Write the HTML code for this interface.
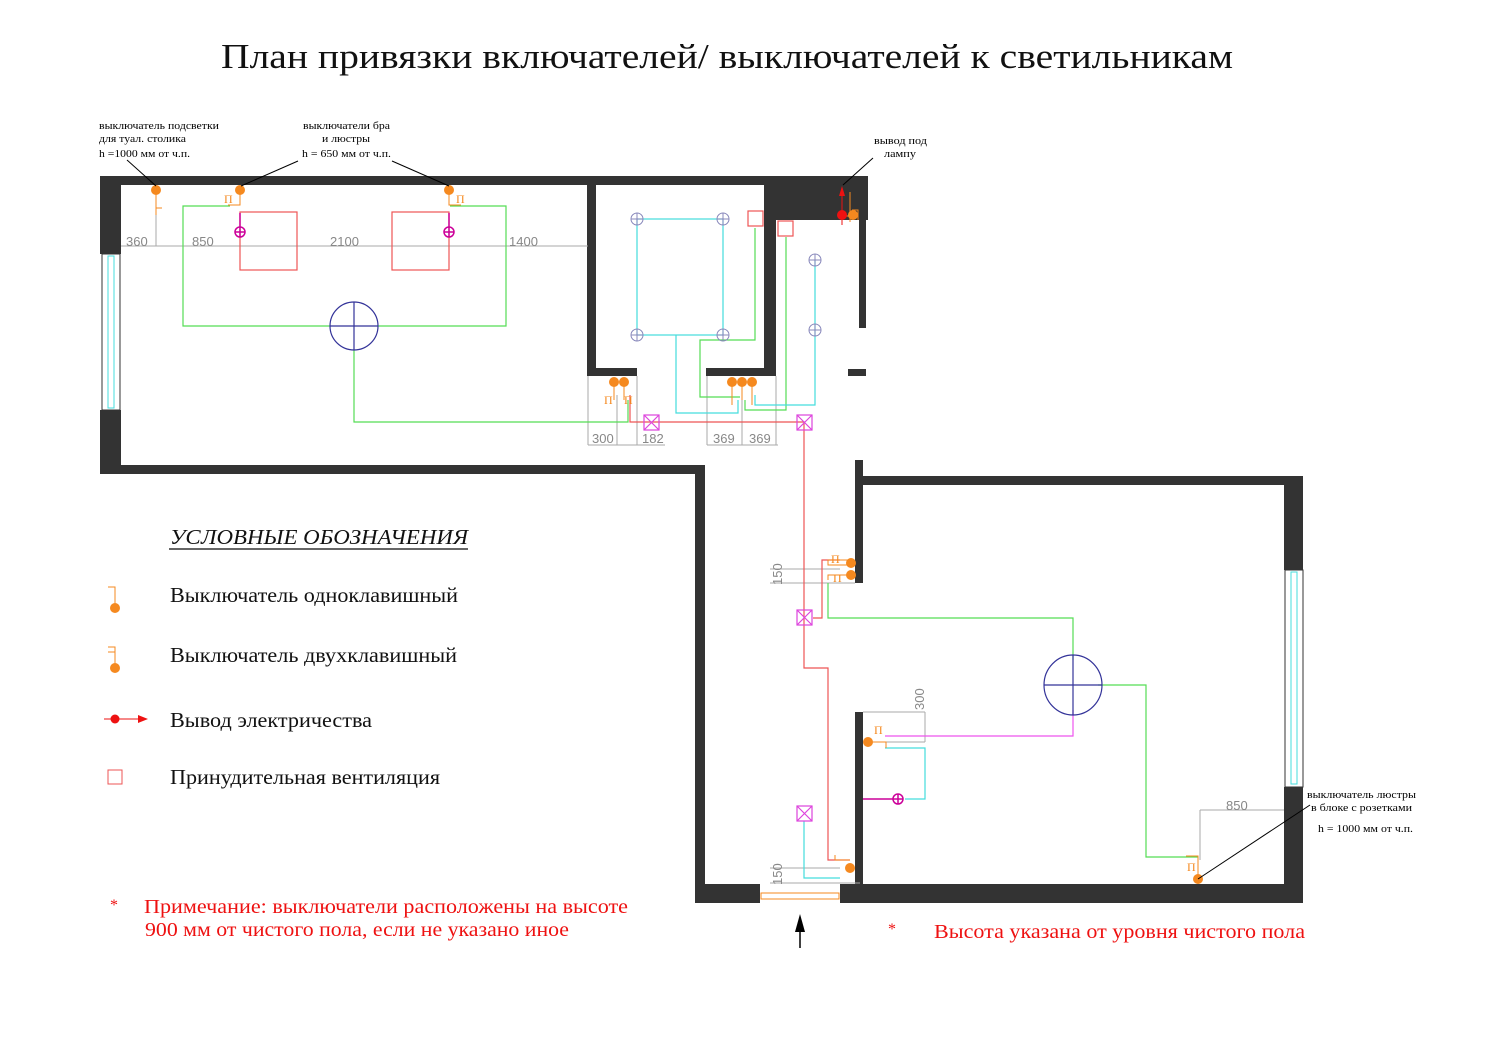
<!DOCTYPE html>
<html><head><meta charset="utf-8"><style>
html,body{margin:0;padding:0;background:#fff;width:1500px;height:1047px;overflow:hidden}
svg{display:block}
text{font-family:"Liberation Serif","DejaVu Serif",serif}
.d{font-family:"Liberation Sans",sans-serif;font-size:13px;fill:#888}
.s{font-size:10.5px;fill:#000}
.o{fill:#f5891f}
.p{font-size:12px;fill:#f5891f}
</style></head><body>
<svg width="1500" height="1047" viewBox="0 0 1500 1047" xmlns="http://www.w3.org/2000/svg">
<text x="221" y="68" font-size="35" fill="#111" textLength="1012" lengthAdjust="spacingAndGlyphs">План привязки включателей/ выключателей к светильникам</text>

<g fill="#333">
<rect x="100" y="176" width="768" height="9"/>
<rect x="100" y="176" width="21" height="78"/>
<rect x="100" y="410" width="21" height="63"/>
<rect x="100" y="465" width="605" height="9"/>
<rect x="695" y="465" width="10" height="438"/>
<rect x="695" y="884" width="65" height="19"/>
<rect x="840" y="884" width="463" height="19"/>
<rect x="587" y="184" width="9" height="192"/>
<rect x="587" y="368" width="50" height="8"/>
<rect x="764" y="184" width="12" height="192"/>
<rect x="706" y="368" width="70" height="8"/>
<rect x="764" y="176" width="104" height="44"/>
<rect x="859" y="176" width="7" height="152"/>
<rect x="848" y="369" width="18" height="7"/>
<rect x="855" y="460" width="8" height="123"/>
<rect x="855" y="476" width="448" height="9"/>
<rect x="1284" y="476" width="19" height="94"/>
<rect x="1284" y="787" width="19" height="116"/>
<rect x="855" y="712" width="8" height="180"/>
</g>
<g fill="none" stroke-width="1">
<rect x="102" y="254" width="18" height="156" stroke="#333"/>
<rect x="108" y="256" width="6" height="152" stroke="#4dd"/>
<rect x="1285" y="570" width="18" height="217" stroke="#333"/>
<rect x="1291" y="572" width="6" height="212" stroke="#4dd"/>
</g>
<rect x="761" y="893" width="78" height="6" fill="none" stroke="#f5891f"/>
<line x1="800" y1="948" x2="800" y2="920" stroke="#000" stroke-width="1.5"/>
<polygon points="800,914 795,932 805,932" fill="#000"/>

<g stroke="#aaa" fill="none" stroke-width="1">
<line x1="121" y1="246" x2="588" y2="246"/>
<line x1="156" y1="200" x2="156" y2="246"/>
<line x1="588" y1="376" x2="588" y2="445"/><line x1="617" y1="395" x2="617" y2="445"/><line x1="637" y1="376" x2="637" y2="445"/>
<line x1="588" y1="445" x2="665" y2="445"/>
<line x1="707" y1="376" x2="707" y2="445"/><line x1="742" y1="395" x2="742" y2="445"/><line x1="776" y1="376" x2="776" y2="445"/>
<line x1="707" y1="445" x2="778" y2="445"/>
<line x1="770" y1="569" x2="840" y2="569"/><line x1="770" y1="583" x2="855" y2="583"/>
<line x1="770" y1="868" x2="840" y2="868"/><line x1="770" y1="883" x2="860" y2="883"/>
<line x1="863" y1="712" x2="925" y2="712"/><line x1="925" y1="712" x2="925" y2="742"/><line x1="885" y1="742" x2="925" y2="742"/>
<line x1="1200" y1="810" x2="1284" y2="810"/><line x1="1200" y1="810" x2="1200" y2="860"/>
</g>
<text class="d" x="126" y="246">360</text><text class="d" x="192" y="246">850</text>
<text class="d" x="330" y="246">2100</text><text class="d" x="509" y="246">1400</text>
<text class="d" x="592" y="443">300</text><text class="d" x="642" y="443">182</text>
<text class="d" x="713" y="443">369</text><text class="d" x="749" y="443">369</text>
<text class="d" x="1226" y="810">850</text>
<text class="d" transform="translate(782,585) rotate(-90)">150</text>
<text class="d" transform="translate(782,885) rotate(-90)">150</text>
<text class="d" transform="translate(924,710) rotate(-90)">300</text>

<g fill="none" stroke="#5d5" stroke-width="1.2">
<polyline points="230,206 183,206 183,326 330,326"/>
<polyline points="378,326 506,326 506,206 450,206"/>
<polyline points="354,350 354,422 628,422 628,400"/>
<polyline points="755,228 755,340 700,340 700,397 740,397"/>
<polyline points="786,237 786,410 745,410 745,400"/>
<polyline points="828,583 828,618 1073,618 1073,660"/>
<polyline points="1098,685 1146,685 1146,857 1198,857"/>
</g>
<g fill="none" stroke="#4dd" stroke-width="1.2">
<rect x="637" y="219" width="86" height="116"/>
<polyline points="676,335 676,413 738,413 738,400"/>
<polyline points="815,260 815,405 755,405 755,395"/>
<polyline points="885,748 925,748 925,799 905,799"/>
<polyline points="804,821 804,878 840,878"/>
</g>
<g fill="none" stroke="#e55" stroke-width="1.2">
<rect x="240" y="212" width="57" height="58"/><rect x="392" y="212" width="57" height="58"/>
<rect x="748" y="211" width="15" height="15"/><rect x="778" y="221" width="15" height="15"/>
<polyline points="630,395 630,422 804,422 804,668 828,668 828,860 850,860"/>
<polyline points="813,618 822,618 822,560 840,560"/>
</g>
<polyline points="885,736 1073,736 1073,710" fill="none" stroke="#e5e" stroke-width="1.2"/>
<g fill="none" stroke="#c09" stroke-width="1.5">
<circle cx="240" cy="232" r="5"/><line x1="235" y1="232" x2="245" y2="232"/><line x1="240" y1="213" x2="240" y2="237"/>
<circle cx="449" cy="232" r="5"/><line x1="444" y1="232" x2="454" y2="232"/><line x1="449" y1="213" x2="449" y2="237"/>
<circle cx="898" cy="799" r="5"/><line x1="893" y1="799" x2="903" y2="799"/><line x1="898" y1="794" x2="898" y2="804"/>
<line x1="863" y1="799" x2="893" y2="799"/>
</g>
<g fill="none" stroke="#d4d" stroke-width="1.2">
<rect x="644" y="415" width="15" height="15"/><path d="M644 415l15 15M659 415l-15 15"/>
<rect x="797" y="415" width="15" height="15"/><path d="M797 415l15 15M812 415l-15 15"/>
<rect x="797" y="610" width="15" height="15"/><path d="M797 610l15 15M812 610l-15 15"/>
<rect x="797" y="806" width="15" height="15"/><path d="M797 806l15 15M812 806l-15 15"/>
</g>
<g fill="none" stroke="#339" stroke-width="1.2">
<circle cx="354" cy="326" r="24"/><line x1="330" y1="326" x2="378" y2="326"/><line x1="354" y1="302" x2="354" y2="350"/>
<ellipse cx="1073" cy="685" rx="29" ry="30"/><line x1="1044" y1="685" x2="1102" y2="685"/><line x1="1073" y1="655" x2="1073" y2="715"/>
</g>
<g fill="none" stroke="#88b" stroke-width="1">
<circle cx="637" cy="219" r="6"/><path d="M631 219h12M637 213v12"/>
<circle cx="723" cy="219" r="6"/><path d="M717 219h12M723 213v12"/>
<circle cx="637" cy="335" r="6"/><path d="M631 335h12M637 329v12"/>
<circle cx="723" cy="335" r="6"/><path d="M717 335h12M723 329v12"/>
<circle cx="815" cy="260" r="6"/><path d="M809 260h12M815 254v12"/>
<circle cx="815" cy="330" r="6"/><path d="M809 330h12M815 324v12"/>
</g>
<g fill="none" stroke="#f5891f" stroke-width="1">
<path d="M156 190v25M156 208h6"/><path d="M240 190v15h-12"/><path d="M449 190v15h12"/>
<path d="M614 385v15M624 385v15"/><path d="M732 385v20M742 385v15M752 385v20"/>
<path d="M848 565h-20v-5h20M848 575h-20v5"/><path d="M850 860h-15v-5"/>
<path d="M868 742h18v6"/><path d="M1198 878v-22h-12"/>
<path d="M850 192v30M843 216h7"/><path d="M852 210h6v10"/>
</g>
<g class="o">
<circle cx="156" cy="190" r="5"/><circle cx="240" cy="190" r="5"/><circle cx="449" cy="190" r="5"/>
<circle cx="614" cy="382" r="5"/><circle cx="624" cy="382" r="5"/>
<circle cx="732" cy="382" r="5"/><circle cx="742" cy="382" r="5"/><circle cx="752" cy="382" r="5"/>
<circle cx="851" cy="563" r="5"/><circle cx="851" cy="575" r="5"/><circle cx="850" cy="868" r="5"/>
<circle cx="868" cy="742" r="5"/><circle cx="1198" cy="879" r="5"/><circle cx="853" cy="215" r="5"/>
</g>
<circle cx="842" cy="215" r="5" fill="#e11"/><polygon points="842,186 839,196 845,196" fill="#e11"/>
<line x1="842" y1="196" x2="842" y2="225" stroke="#e11"/>
<text class="p" x="224" y="203">П</text><text class="p" x="456" y="203">П</text>
<text class="p" x="604" y="404">П</text><text class="p" x="624" y="404">П</text>
<text class="p" x="831" y="563">П</text><text class="p" x="833" y="582">П</text>
<text class="p" x="874" y="734">П</text><text class="p" x="1187" y="871">П</text>

<g stroke="#000" stroke-width="1">
<line x1="127" y1="160" x2="156" y2="186"/><line x1="298" y1="161" x2="241" y2="186"/>
<line x1="392" y1="161" x2="449" y2="186"/><line x1="873" y1="158" x2="843" y2="185"/>
<line x1="1198" y1="879" x2="1310" y2="805"/>
</g>
<g class="s" lengthAdjust="spacingAndGlyphs">
<text class="s" x="99" y="129" textLength="120" lengthAdjust="spacingAndGlyphs">выключатель подсветки</text>
<text class="s" x="99" y="142" textLength="87" lengthAdjust="spacingAndGlyphs">для туал. столика</text>
<text class="s" x="99" y="157" textLength="91" lengthAdjust="spacingAndGlyphs">h =1000 мм от ч.п.</text>
<text class="s" x="303" y="129" textLength="87" lengthAdjust="spacingAndGlyphs">выключатели бра</text>
<text class="s" x="322" y="142" textLength="48" lengthAdjust="spacingAndGlyphs">и люстры</text>
<text class="s" x="302" y="157" textLength="89" lengthAdjust="spacingAndGlyphs">h = 650 мм от ч.п.</text>
<text class="s" x="874" y="144" textLength="53" lengthAdjust="spacingAndGlyphs">вывод под</text>
<text class="s" x="884" y="157" textLength="32" lengthAdjust="spacingAndGlyphs">лампу</text>
<text class="s" x="1307" y="798" textLength="109" lengthAdjust="spacingAndGlyphs">выключатель люстры</text>
<text class="s" x="1311" y="811" textLength="101" lengthAdjust="spacingAndGlyphs">в блоке с розетками</text>
<text class="s" x="1318" y="832" textLength="95" lengthAdjust="spacingAndGlyphs">h = 1000 мм от ч.п.</text>
</g>

<text x="170" y="544" font-size="21" font-style="italic" fill="#111" textLength="298" lengthAdjust="spacingAndGlyphs">УСЛОВНЫЕ ОБОЗНАЧЕНИЯ</text>
<line x1="169" y1="549" x2="468" y2="549" stroke="#333" stroke-width="1.5"/>
<g font-size="21" fill="#111">
<text x="170" y="602" textLength="288" lengthAdjust="spacingAndGlyphs">Выключатель одноклавишный</text>
<text x="170" y="662" textLength="287" lengthAdjust="spacingAndGlyphs">Выключатель двухклавишный</text>
<text x="170" y="727" textLength="202" lengthAdjust="spacingAndGlyphs">Вывод электричества</text>
<text x="170" y="784" textLength="270" lengthAdjust="spacingAndGlyphs">Принудительная вентиляция</text>
</g>
<path d="M108 587h7v20M108 647h7v20M108 652h7" fill="none" stroke="#f5891f"/>
<circle cx="115" cy="608" r="5" class="o"/><circle cx="115" cy="668" r="5" class="o"/>
<line x1="104" y1="719" x2="138" y2="719" stroke="#e11"/><circle cx="115" cy="719" r="4.5" fill="#e11"/><polygon points="148,719 138,715 138,723" fill="#e11"/>
<rect x="108" y="770" width="14" height="14" fill="none" stroke="#e55"/>
<g fill="#e11" font-size="20">
<text x="110" y="910" font-size="16">*</text>
<text x="144" y="913" textLength="484" lengthAdjust="spacingAndGlyphs">Примечание: выключатели расположены на высоте</text>
<text x="145" y="936" textLength="424" lengthAdjust="spacingAndGlyphs">900 мм от чистого пола, если не указано иное</text>
<text x="888" y="934" font-size="16">*</text>
<text x="934" y="938" textLength="371" lengthAdjust="spacingAndGlyphs">Высота указана от уровня чистого пола</text>
</g>
</svg>
</body></html>
